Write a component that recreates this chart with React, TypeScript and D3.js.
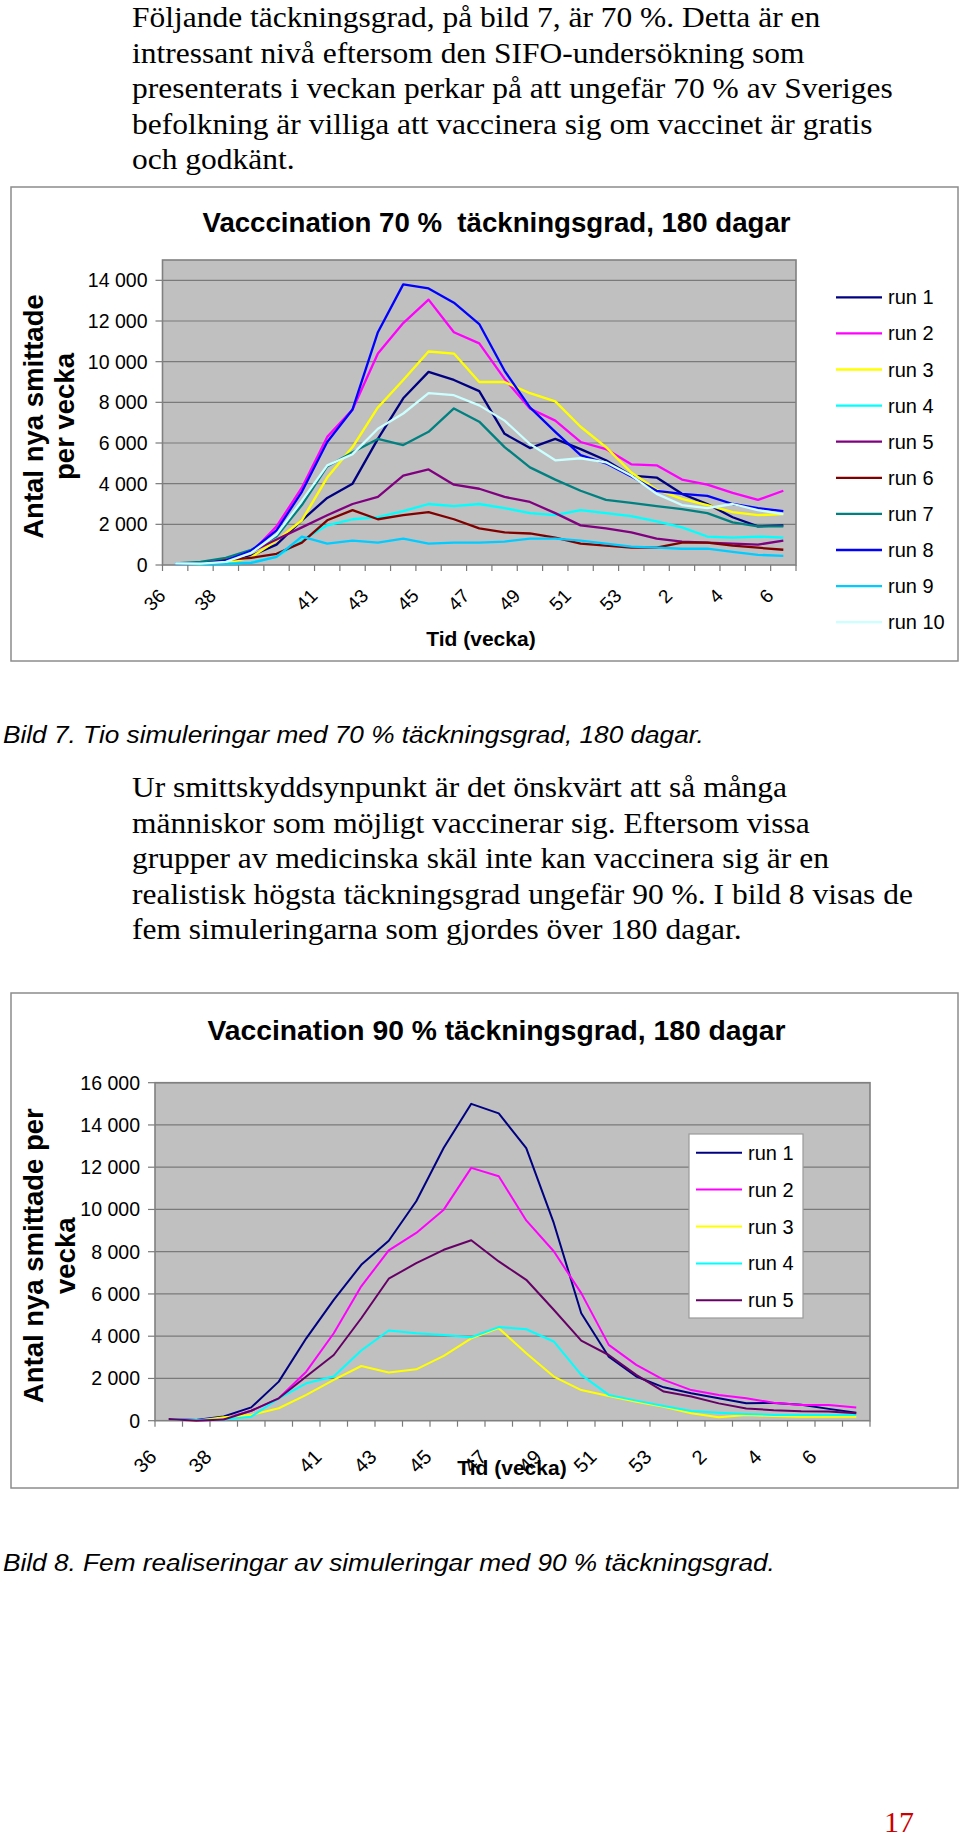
import * as d3 from "d3";

// week labels on the category axis (index 4 has no label in the source)
const weeks70 = ["36", "37", "38", "39", "", "40", "41", "42", "43", "44", "45", "46", "47", "48", "49", "50", "51", "52", "53", "1", "2", "3", "4", "5", "6"];
const weeks90 = [...weeks70, "7"];

// Bild 7 – 70 % täckningsgrad, tio körningar
const run1_70 = [80, 60, 150, 450, 1000, 2200, 3300, 4000, 6200, 8200, 9500, 9100, 8550, 6450, 5750, 6200, 5700, 5150, 4400, 4300, 3500, 3000, 2350, 1900, 1950];
const run2_70 = [80, 60, 200, 600, 1900, 3800, 6300, 7650, 10400, 11900, 13050, 11450, 10900, 9150, 7700, 7100, 6050, 5700, 4950, 4900, 4200, 3950, 3550, 3200, 3650];
const run3_70 = [80, 50, 100, 380, 1200, 2200, 4300, 5800, 7750, 9100, 10500, 10400, 9000, 9000, 8450, 8050, 6800, 5800, 4550, 3700, 3250, 2950, 2600, 2450, 2500];
const run4_70 = [80, 50, 60, 130, 400, 1200, 1950, 2250, 2350, 2650, 3000, 2900, 3000, 2800, 2550, 2450, 2700, 2550, 2400, 2150, 1850, 1400, 1350, 1400, 1350];
const run5_70 = [80, 80, 250, 650, 1250, 1850, 2450, 3000, 3350, 4400, 4700, 3950, 3750, 3350, 3100, 2550, 1950, 1800, 1600, 1300, 1150, 1100, 1050, 1000, 1200];
const run6_70 = [80, 100, 250, 350, 550, 1100, 2200, 2700, 2250, 2450, 2600, 2250, 1800, 1600, 1550, 1350, 1050, 950, 850, 850, 1100, 1100, 950, 850, 750];
const run7_70 = [80, 150, 350, 750, 1400, 2950, 4850, 5550, 6200, 5900, 6550, 7700, 7050, 5800, 4800, 4200, 3650, 3200, 3050, 2900, 2750, 2550, 2100, 1900, 1900];
const run8_70 = [80, 60, 200, 700, 1700, 3600, 6050, 7650, 11450, 13800, 13600, 12900, 11850, 9550, 7750, 6550, 5400, 5000, 4350, 3650, 3500, 3400, 3000, 2800, 2650];
const run9_70 = [80, 50, 60, 100, 400, 1400, 1050, 1200, 1100, 1300, 1050, 1100, 1100, 1150, 1300, 1300, 1200, 1050, 900, 850, 800, 800, 650, 500, 450];
const run10_70 = [80, 70, 150, 600, 1500, 3150, 4900, 5450, 6700, 7450, 8450, 8350, 7850, 7100, 5950, 5150, 5250, 5050, 4400, 3500, 2950, 2800, 3000, 2700, 2500];

// Bild 8 – 90 % täckningsgrad, fem körningar
const run1_90 = [80, 30, 200, 630, 1850, 3900, 5720, 7380, 8520, 10390, 12920, 15000, 14550, 12900, 9360, 5090, 3030, 2090, 1580, 1300, 1060, 830, 840, 760, 560, 380];
const run2_90 = [80, 30, 100, 470, 1060, 2320, 4140, 6360, 8060, 8890, 9990, 11970, 11570, 9480, 8020, 6040, 3590, 2640, 1930, 1450, 1220, 1060, 850, 740, 740, 630];
const run3_90 = [80, 0, 160, 270, 590, 1220, 1930, 2590, 2280, 2430, 3070, 3900, 4380, 3190, 2090, 1450, 1170, 900, 660, 350, 160, 270, 220, 190, 190, 190];
const run4_90 = [80, 30, 60, 190, 1060, 1770, 2090, 3320, 4270, 4140, 4060, 3950, 4430, 4330, 3750, 2170, 1220, 950, 700, 460, 380, 320, 270, 270, 270, 270];
const run5_90 = [80, 0, 60, 470, 1060, 2090, 3110, 4850, 6720, 7460, 8090, 8540, 7540, 6670, 5250, 3790, 3110, 2170, 1380, 1150, 820, 580, 500, 450, 430, 350];

const names70 = ["run 1", "run 2", "run 3", "run 4", "run 5", "run 6", "run 7", "run 8", "run 9", "run 10"];
const names90 = ["run 1", "run 2", "run 3", "run 4", "run 5"];
const colors70 = ["#000080", "#FF00FF", "#FFFF00", "#00FFFF", "#800080", "#800000", "#008080", "#0000FF", "#00CCFF", "#CCFFFF"];
const colors90 = ["#000080", "#FF00FF", "#FFFF00", "#00FFFF", "#660066"];

const paragraph1 = [
  "Följande täckningsgrad, på bild 7, är 70 %. Detta är en",
  "intressant nivå eftersom den SIFO-undersökning som",
  "presenterats i veckan perkar på att ungefär 70 % av Sveriges",
  "befolkning är villiga att vaccinera sig om vaccinet är gratis",
  "och godkänt.",
];
const paragraph2 = [
  "Ur smittskyddsynpunkt är det önskvärt att så många",
  "människor som möjligt vaccinerar sig. Eftersom vissa",
  "grupper av medicinska skäl inte kan vaccinera sig är en",
  "realistisk högsta täckningsgrad ungefär 90 %. I bild 8 visas de",
  "fem simuleringarna som gjordes över 180 dagar.",
];
const caption7 = "Bild 7. Tio simuleringar med 70 % täckningsgrad, 180 dagar.";
const caption8 = "Bild 8. Fem realiseringar av simuleringar med 90 % täckningsgrad.";

const SANS = "'Liberation Sans', Arial, Helvetica, sans-serif";
const SERIF = "'Liberation Serif', 'Times New Roman', serif";

const fmt = d3.formatLocale({ decimal: ",", thousands: " ", grouping: [3], currency: ["", ""] }).format(",d");

interface ChartProps {
  cats: string[];
  series: number[][];
  colors: string[];
  names: string[];
  frame: [number, number, number, number];
  plot: { x0: number; x1: number; y0: number; y1: number };
  yMax: number;
  title: string;
  titleY: number;
  titleLen: number;
  yTitle: string[];
  yTitleX: number[];
  xTitleX: number;
  xTitleY: number;
  labelFont: number;
  labelDx: number;
  labelDy: number;
  legend: { x: number; y0: number; step: number; box?: [number, number, number, number] };
  lineWidth: number;
}

function Chart(p: ChartProps) {
  const { plot } = p;
  const x = d3
    .scaleBand<number>()
    .domain(d3.range(p.cats.length))
    .range([plot.x0, plot.x1]);
  const y = d3.scaleLinear().domain([0, p.yMax]).range([plot.y1, plot.y0]);
  const cx = (i: number) => (x(i) ?? 0) + x.bandwidth() / 2;
  const line = d3
    .line<number>()
    .x((_, i) => cx(i))
    .y((d) => y(d));
  const yTicks = d3.range(0, p.yMax + 1, 2000);
  const titleCx = (p.frame[0] * 2 + p.frame[2]) / 2 + 12;
  const yCenter = (plot.y0 + plot.y1) / 2;

  return (
    <g>
      <rect x={p.frame[0]} y={p.frame[1]} width={p.frame[2]} height={p.frame[3]} fill="#fff" stroke="#8c8c8c" strokeWidth={1.5} />
      <text
        x={titleCx}
        y={p.titleY}
        textAnchor="middle"
        fontFamily={SANS}
        fontWeight="bold"
        fontSize={27}
        textLength={p.titleLen}
        lengthAdjust="spacingAndGlyphs"
        style={{ whiteSpace: "pre" }}
      >
        {p.title}
      </text>

      <rect x={plot.x0} y={plot.y0} width={plot.x1 - plot.x0} height={plot.y1 - plot.y0} fill="#C0C0C0" />
      {yTicks.map((t) => (
        <g key={t}>
          {t > 0 && <line x1={plot.x0} x2={plot.x1} y1={y(t)} y2={y(t)} stroke="#7a7a7a" strokeWidth={1.2} />}
          <line x1={plot.x0 - 7} x2={plot.x0} y1={y(t)} y2={y(t)} stroke="#7a7a7a" strokeWidth={1.2} />
          <text x={plot.x0 - 15} y={y(t) + 7} textAnchor="end" fontFamily={SANS} fontSize={19.5} fill="#000">
            {fmt(t)}
          </text>
        </g>
      ))}
      <rect x={plot.x0} y={plot.y0} width={plot.x1 - plot.x0} height={plot.y1 - plot.y0} fill="none" stroke="#808080" strokeWidth={1.6} />
      {d3.range(p.cats.length + 1).map((i) => {
        const xx = i === p.cats.length ? plot.x1 : (x(i) ?? 0);
        return <line key={i} x1={xx} x2={xx} y1={plot.y1} y2={plot.y1 + 6} stroke="#7a7a7a" strokeWidth={1.2} />;
      })}
      {p.cats.map((c, i) =>
        i % 2 === 0 && c !== "" ? (
          <text
            key={i}
            transform={`translate(${cx(i) + p.labelDx},${plot.y1 + p.labelDy}) rotate(-45)`}
            textAnchor="end"
            fontFamily={SANS}
            fontSize={p.labelFont}
          >
            {c}
          </text>
        ) : null,
      )}

      {p.series.map((s, k) => (
        <path key={k} d={line(s) ?? ""} fill="none" stroke={p.colors[k]} strokeWidth={p.lineWidth} strokeLinejoin="round" />
      ))}

      <text x={p.xTitleX} y={p.xTitleY} textAnchor="middle" fontFamily={SANS} fontWeight="bold" fontSize={21}>
        Tid (vecka)
      </text>
      {p.yTitle.map((t, k) => (
        <text
          key={k}
          transform={`translate(${p.yTitleX[k]},${yCenter + 4}) rotate(-90)`}
          textAnchor="middle"
          fontFamily={SANS}
          fontWeight="bold"
          fontSize={27.5}
        >
          {t}
        </text>
      ))}

      {p.legend.box && (
        <rect x={p.legend.box[0]} y={p.legend.box[1]} width={p.legend.box[2]} height={p.legend.box[3]} fill="#fff" stroke="#9a9a9a" strokeWidth={1.2} />
      )}
      {p.names.map((n, k) => {
        const ly = p.legend.y0 + k * p.legend.step;
        return (
          <g key={n}>
            <line x1={p.legend.x} x2={p.legend.x + 46} y1={ly} y2={ly} stroke={p.colors[k]} strokeWidth={p.lineWidth} />
            <text x={p.legend.x + 52} y={ly + 7} fontFamily={SANS} fontSize={20}>
              {n}
            </text>
          </g>
        );
      })}
    </g>
  );
}

function Paragraph({ lines, y0 }: { lines: string[]; y0: number }) {
  return (
    <g transform="translate(132,0) scale(1.05,1)" fontFamily={SERIF} fontSize={30}>
      {lines.map((l, i) => (
        <text key={i} x={0} y={y0 + i * 35.6}>
          {l}
        </text>
      ))}
    </g>
  );
}

export default function App() {
  const series70 = [run1_70, run2_70, run3_70, run4_70, run5_70, run6_70, run7_70, run8_70, run9_70, run10_70];
  const series90 = [run1_90, run2_90, run3_90, run4_90, run5_90];
  return (
    <svg width={960} height={1840} style={{ position: "absolute", left: 0, top: 0, background: "#fff" }}>
      <rect width={960} height={1840} fill="#fff" />
      <Paragraph lines={paragraph1} y0={27} />

      <Chart
        cats={weeks70}
        series={series70}
        colors={colors70}
        names={names70}
        frame={[11, 187, 947, 474]}
        plot={{ x0: 162.5, x1: 796, y0: 260, y1: 565 }}
        yMax={15000}
        title={"Vacccination 70 %  täckningsgrad, 180 dagar"}
        titleY={232}
        titleLen={588}
        yTitle={["Antal nya smittade", "per vecka"]}
        yTitleX={[43, 74]}
        xTitleX={481}
        xTitleY={646}
        labelFont={19}
        labelDx={-8.5}
        labelDy={32}
        legend={{ x: 836, y0: 297.3, step: 36.1 }}
        lineWidth={2.3}
      />

      <g transform="translate(3,0) scale(1.07,1)" fontFamily={SANS} fontStyle="italic" fontSize={24.5}>
        <text x={0} y={743}>{caption7}</text>
      </g>

      <Paragraph lines={paragraph2} y0={797} />

      <Chart
        cats={weeks90}
        series={series90}
        colors={colors90}
        names={names90}
        frame={[11, 993, 947, 495]}
        plot={{ x0: 155, x1: 870, y0: 1082.7, y1: 1420.7 }}
        yMax={16000}
        title={"Vaccination 90 % täckningsgrad, 180 dagar"}
        titleY={1040}
        titleLen={578}
        yTitle={["Antal nya smittade per", "vecka"]}
        yTitleX={[43, 75]}
        xTitleX={512}
        xTitleY={1475}
        labelFont={20}
        labelDx={-11}
        labelDy={37.5}
        legend={{ x: 696, y0: 1152.7, step: 36.9, box: [689, 1134, 114, 184] }}
        lineWidth={2}
      />

      <g transform="translate(3,0) scale(1.07,1)" fontFamily={SANS} fontStyle="italic" fontSize={24.5}>
        <text x={0} y={1571}>{caption8}</text>
      </g>

      <text x={884} y={1832} fontFamily={SERIF} fontSize={30} fill="#CC0000">
        17
      </text>
    </svg>
  );
}
